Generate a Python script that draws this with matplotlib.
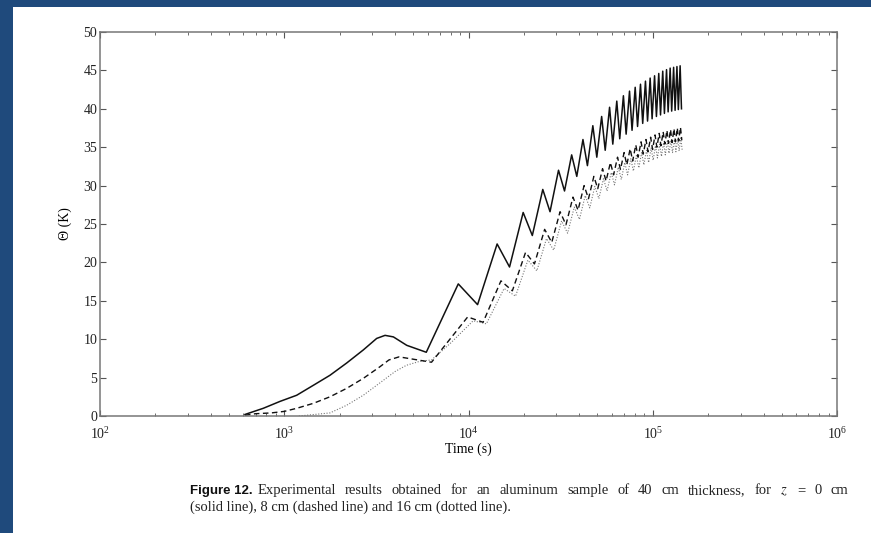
import numpy as np
import matplotlib.pyplot as plt
from matplotlib.patches import Rectangle
from matplotlib.ticker import MultipleLocator

plt.rcParams['font.family'] = ['Liberation Serif', 'DejaVu Serif']
plt.rcParams['mathtext.fontset'] = 'stix'

# z = 0 cm (solid line): warm-up part, then the peaks and troughs of each cycle
solid_rise_t = [612, 769, 948, 1168, 1439, 1770, 2182, 2685, 3174, 3911, 4624]
solid_rise_v = [0.2, 1.0, 1.9, 2.7, 4.0, 5.3, 6.9, 8.6, 10.1, 10.3, 9.2]
solid_peak_t = [3524, 8800, 14300, 19800, 25300, 30800, 36300, 41800, 47300, 52800,
                58300, 63800, 69300, 74800, 80300, 85800, 91300, 96800, 102300,
                107800, 113300, 118800, 124300, 129800, 135300, 140800]
solid_peak_v = [10.5, 17.2, 22.4, 26.5, 29.5, 32.0, 34.0, 36.0, 37.8, 39.0,
                40.2, 41.0, 41.7, 42.3, 42.8, 43.2, 43.6, 44.0, 44.3,
                44.6, 44.9, 45.1, 45.3, 45.4, 45.5, 45.6]
solid_trough_t = [5900, 11200, 16700, 22200, 27700, 33200, 38700, 44200, 49700,
                  55200, 60700, 66200, 71700, 77200, 82700, 88200, 93700, 99200,
                  104700, 110200, 115700, 121200, 126700, 132200, 137700, 143200]
solid_trough_v = [8.3, 14.5, 19.4, 23.5, 26.6, 29.3, 31.2, 32.6, 33.7,
                  34.6, 35.4, 36.1, 36.7, 37.2, 37.7, 38.1, 38.4, 38.7,
                  39.0, 39.2, 39.4, 39.6, 39.7, 39.8, 39.9, 40.0]

# z = 8 cm (dashed line)
dash_rise_t = [612, 700, 850, 1000, 1168, 1439, 1770, 2182, 2685, 3300, 3700]
dash_rise_v = [0.1, 0.3, 0.4, 0.6, 1.0, 1.65, 2.5, 3.6, 4.9, 6.4, 7.3]
dash_peak_t = [4200, 9900, 15000, 20400, 25900, 31400, 36900, 42400, 47900, 53400,
               58900, 64400, 69900, 75400, 80900, 86400, 91900, 97400, 102900,
               108400, 113900, 119400, 124900, 130400, 135900, 141400]
dash_peak_v = [7.7, 12.9, 17.6, 21.3, 24.3, 26.6, 28.5, 30.0, 31.2, 32.2,
               33.0, 33.7, 34.3, 34.8, 35.3, 35.7, 36.0, 36.3, 36.6,
               36.8, 37.0, 37.2, 37.3, 37.4, 37.5, 37.6]
dash_trough_t = [6300, 12000, 17300, 22800, 28300, 33800, 39300, 44800, 50300,
                 55800, 61300, 66800, 72300, 77800, 83300, 88800, 94300, 99800,
                 105300, 110800, 116300, 121800, 127300, 132800, 138300, 143800]
dash_trough_v = [7.0, 12.2, 16.3, 19.8, 22.6, 24.9, 26.8, 28.3, 29.6,
                 30.6, 31.4, 32.1, 32.7, 33.2, 33.7, 34.1, 34.4, 34.7,
                 35.0, 35.2, 35.4, 35.5, 35.6, 35.7, 35.8, 35.9]

# z = 16 cm (dotted line)
dot_rise_t = [1200, 1770, 2182, 2685, 3300, 4000, 4600, 5400, 6300, 8000]
dot_rise_v = [0.0, 0.4, 1.4, 2.7, 4.3, 5.8, 6.6, 7.1, 7.3, 9.5]
dot_peak_t = [10600, 15600, 21000, 26500, 32000, 37500, 43000, 48500, 54000,
              59500, 65000, 70500, 76000, 81500, 87000, 92500, 98000, 103500,
              109000, 114500, 120000, 125500, 131000, 136500, 142000]
dot_peak_v = [12.4, 16.6, 20.3, 23.1, 25.4, 27.2, 28.7, 29.9, 30.9,
              31.7, 32.4, 33.0, 33.5, 33.9, 34.3, 34.6, 34.9, 35.2,
              35.4, 35.6, 35.8, 35.9, 36.0, 36.1, 36.2]
dot_trough_t = [12500, 18000, 23500, 29000, 34500, 40000, 45500, 51000, 56500,
                62000, 67500, 73000, 78500, 84000, 89500, 95000, 100500, 106000,
                111500, 117000, 122500, 128000, 133500, 139000, 144500]
dot_trough_v = [12.0, 15.6, 18.9, 21.6, 23.8, 25.6, 27.1, 28.3, 29.3,
                30.1, 30.8, 31.4, 31.9, 32.3, 32.7, 33.0, 33.3, 33.6,
                33.8, 34.0, 34.2, 34.3, 34.4, 34.5, 34.6]

caption_head = 'Figure 12.'
caption_line1 = ('Experimental results obtained for an aluminum sample of 40 cm '
                 'thickness, for $z$ = 0 cm')
caption_line2 = '(solid line), 8 cm (dashed line) and 16 cm (dotted line).'


def merge(*pairs):
    t = np.concatenate([np.asarray(p[0], float) for p in pairs])
    v = np.concatenate([np.asarray(p[1], float) for p in pairs])
    order = np.argsort(t)
    return t[order], v[order]


solid_t, solid_v = merge((solid_rise_t, solid_rise_v), (solid_peak_t, solid_peak_v),
                         (solid_trough_t, solid_trough_v))
dash_t, dash_v = merge((dash_rise_t, dash_rise_v), (dash_peak_t, dash_peak_v),
                       (dash_trough_t, dash_trough_v))
dot_t, dot_v = merge((dot_rise_t, dot_rise_v), (dot_peak_t, dot_peak_v),
                     (dot_trough_t, dot_trough_v))

W, H = 871, 533
fig = plt.figure(figsize=(W / 100, H / 100), dpi=100)
fig.patch.set_facecolor('#1f4a7c')
fig.add_artist(Rectangle((13 / W, 0), 1, (H - 7) / H, transform=fig.transFigure,
                         facecolor='white', edgecolor='none', zorder=-1))

ax = fig.add_axes([100 / W, 1 - 416 / H, 737 / W, 384 / H])
ax.plot(dot_t, dot_v, color='#777777', lw=0.8, ls=(0, (1, 1.5)))
ax.plot(dash_t, dash_v, color='#111111', lw=1.0, ls=(0, (4, 2.5)))
ax.plot(solid_t, solid_v, color='#111111', lw=1.1)

ax.set_xscale('log')
ax.set_xlim(1e2, 1e6)
ax.set_ylim(0, 50)
ax.yaxis.set_major_locator(MultipleLocator(5))
ax.tick_params(which='both', direction='in', top=True, right=True,
               labelsize=10, colors='#555555', labelcolor='#222222')
ax.tick_params(which='major', length=4, width=0.8)
ax.tick_params(which='minor', length=2.5, width=0.6)
ax.tick_params(axis='x', which='major', pad=7)
ax.tick_params(axis='y', which='major', pad=2)
for s in ax.spines.values():
    s.set_color('#777777')
    s.set_linewidth(1.1)

ax.set_xlabel('Time (s)', fontsize=10, labelpad=1)
ax.set_ylabel('Θ (K)', fontsize=10, labelpad=8)

# caption: bold label, then a justified first line and a ragged second line
r = fig.canvas.get_renderer()
y1 = 1 - 494 / H
y2 = 1 - 511 / H
cap_size = 10.5
t1 = fig.text(190 / W, y1, caption_head, fontfamily=['Liberation Sans'],
              fontweight='bold', fontsize=9.5, va='baseline', color='#111111')
start = t1.get_window_extent(r).x1 + 5
end = 848
words = caption_line1.split(' ')
widths = []
for w in words:
    tw = fig.text(0, 0, w, fontsize=cap_size)
    widths.append(tw.get_window_extent(r).width)
    tw.remove()
gap = (end - start - sum(widths)) / (len(words) - 1)
x = start
for w, wd in zip(words, widths):
    fig.text(x / W, y1, w, fontsize=cap_size, va='baseline', color='#222222')
    x += wd + gap
fig.text(190 / W, y2, caption_line2, fontsize=cap_size, va='baseline', color='#222222')

fig.savefig('out.png', dpi=100)
